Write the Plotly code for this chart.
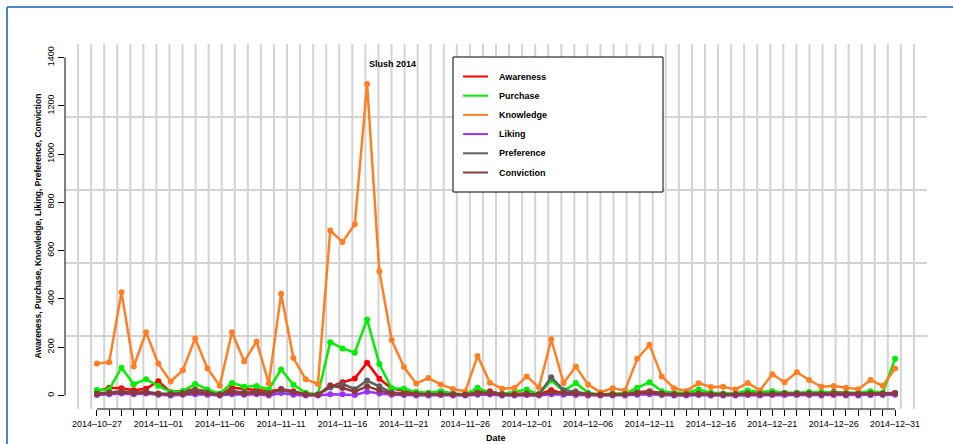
import plotly.graph_objects as go
import pandas as pd

# ---------------- data ----------------
dates = pd.date_range("2014-10-27", "2014-12-31", freq="D")
date_str = [d.strftime("%Y-%m-%d") for d in dates]

awareness = [18, 32, 30, 22, 28, 59, 14, 18, 25, 18, 4, 32, 28, 25, 18, 25, 18, 4, 4, 36,
             55, 70, 136, 69, 30, 20, 11, 8, 8, 6, 5, 14, 18, 5, 6, 8, 5, 22, 8, 10,
             6, 4, 6, 6, 14, 18, 10, 6, 5, 8, 5, 5, 6, 10, 6, 8, 10, 10, 10, 8,
             14, 10, 8, 8, 8, 10]
purchase = [23, 25, 115, 47, 67, 40, 14, 18, 48, 25, 7, 52, 36, 39, 25, 108, 44, 11, 4, 221,
            195, 177, 315, 130, 30, 28, 14, 11, 18, 8, 4, 32, 11, 6, 14, 25, 4, 63, 18, 52,
            11, 4, 8, 8, 32, 55, 18, 11, 11, 25, 11, 8, 8, 21, 15, 18, 11, 11, 14, 14,
            11, 11, 11, 18, 11, 152]
knowledge = [132, 138, 428, 120, 262, 132, 58, 105, 236, 112, 40, 262, 141, 224, 50, 421, 155, 67, 48, 683,
             636, 709, 1290, 515, 230, 118, 50, 72, 46, 27, 17, 164, 53, 28, 31, 79, 33, 233, 52, 120,
             45, 13, 30, 21, 152, 210, 79, 30, 19, 51, 35, 36, 25, 52, 21, 88, 55, 96, 64, 36,
             39, 32, 26, 64, 40, 112]
liking = [2, 5, 8, 5, 8, 3, 0, 3, 5, 3, 0, 5, 3, 5, 0, 10, 3, 0, 0, 5,
          5, 2, 15, 8, 3, 2, 0, 0, 2, 0, 0, 3, 4, 0, 0, 2, 0, 5, 3, 2,
          0, 0, 0, 0, 3, 5, 2, 0, 0, 2, 0, 0, 0, 2, 0, 2, 2, 2, 2, 0,
          2, 0, 0, 2, 2, 3]
preference = [8, 12, 18, 12, 15, 8, 6, 10, 22, 12, 4, 18, 12, 14, 10, 22, 14, 5, 4, 33,
              48, 26, 62, 38, 12, 8, 6, 5, 6, 5, 4, 10, 12, 5, 5, 8, 5, 76, 22, 16,
              6, 4, 5, 5, 10, 15, 8, 5, 5, 8, 5, 5, 5, 8, 6, 8, 8, 8, 8, 6,
              8, 6, 6, 8, 8, 10]
conviction = [6, 10, 14, 10, 12, 6, 5, 6, 12, 8, 3, 12, 8, 10, 6, 27, 14, 4, 3, 42,
              31, 16, 38, 21, 8, 6, 5, 5, 5, 4, 3, 8, 10, 4, 4, 6, 4, 12, 10, 8,
              4, 3, 4, 4, 8, 12, 6, 4, 4, 6, 4, 4, 4, 6, 5, 6, 6, 6, 6, 5,
              6, 5, 5, 6, 6, 8]

series_names = ["Awareness", "Purchase", "Knowledge", "Liking", "Preference", "Conviction"]
series_values = [awareness, purchase, knowledge, liking, preference, conviction]
colors = ["#FF0000", "#00EE00", "#FF7F24", "#9B30FF", "#5E5E5E", "#8B3A3A"]

y_ticks = [0, 200, 400, 600, 800, 1000, 1200, 1400]
y_lim = (0, 1400)
tick_labels = [s.replace("-", "\u2013") if i % 5 == 0 else "" for i, s in enumerate(date_str)]

title_text = "Slush 2014"
y_title = "Awareness, Purchase, Knowledge, Liking, Preference, Conviction"
x_title = "Date"

# ---------------- layout geometry ----------------
W, H = 953, 444
ML, MR, MT, MB = 65, 26, 44, 35
PW, PH = W - ML - MR, H - MT - MB

def px_x(px):
    return (px - ML) / PW

def px_y(py):
    return (H - MB - py) / PH

FONT = "Liberation Sans, Arial, Helvetica, sans-serif"

# R-style 4% range extension
n_days = (dates[-1] - dates[0]).days
ext_x = pd.Timedelta(days=0.04 * n_days)
x_lo, x_hi = dates[0] - ext_x, dates[-1] + ext_x
ext_y = 0.04 * (y_lim[1] - y_lim[0])
y_lo, y_hi = y_lim[0] - ext_y, y_lim[1] + ext_y

fig = go.Figure()
for name, vals, col in zip(series_names, series_values, colors):
    fig.add_trace(go.Scatter(
        x=dates, y=vals, name=name, mode="lines+markers",
        line=dict(color=col, width=2.5),
        marker=dict(color=col, size=6),
        showlegend=False, cliponaxis=False,
    ))

shapes = []
GRID = "#D3D3D3"
# grid (R grid(nx=66, ny=5))
nx, ny = 66, 5
for k in range(1, nx):
    xv = x_lo + (x_hi - x_lo) * k / nx
    shapes.append(dict(type="line", xref="x", yref="paper",
                       x0=xv, x1=xv, y0=0, y1=1, layer="below",
                       line=dict(color=GRID, width=2)))
for k in range(1, ny):
    yv = y_lo + (y_hi - y_lo) * k / ny
    shapes.append(dict(type="line", xref="paper", yref="y",
                       x0=0, x1=1, y0=yv, y1=yv, layer="below",
                       line=dict(color=GRID, width=2)))
# axis lines spanning tick range
shapes.append(dict(type="line", xref="paper", yref="y", x0=0, x1=0,
                   y0=y_ticks[0], y1=y_ticks[-1], line=dict(color="black", width=1)))
shapes.append(dict(type="line", xref="x", yref="paper", x0=dates[0], x1=dates[-1],
                   y0=0, y1=0, line=dict(color="black", width=1)))

# legend box
shapes.append(dict(type="rect", xref="paper", yref="paper",
                   x0=px_x(453), x1=px_x(663), y0=px_y(192), y1=px_y(57),
                   fillcolor="white", line=dict(color="black", width=1), layer="above"))
annotations = []
for i, (name, col) in enumerate(zip(series_names, colors)):
    yy = px_y(76.5 + 19.2 * i)
    shapes.append(dict(type="line", xref="paper", yref="paper",
                       x0=px_x(463), x1=px_x(488), y0=yy, y1=yy,
                       line=dict(color=col, width=2), layer="above"))
    annotations.append(dict(xref="paper", yref="paper", x=px_x(497), y=yy,
                            text=name, showarrow=False, xanchor="left", yanchor="middle",
                            font=dict(family=FONT, size=9, color="black", weight="bold")))

# outer blue frame
FRAME = "#4F81D6"
shapes.append(dict(type="line", xref="paper", yref="paper",
                   x0=px_x(7), x1=px_x(7), y0=px_y(7), y1=px_y(470),
                   line=dict(color=FRAME, width=2)))
shapes.append(dict(type="line", xref="paper", yref="paper",
                   x0=px_x(7), x1=px_x(970), y0=px_y(7), y1=px_y(7),
                   line=dict(color=FRAME, width=2)))

# texts
peak_i = knowledge.index(max(knowledge))
annotations.append(dict(xref="x", yref="y", x=dates[peak_i], y=1372, text=title_text,
                        showarrow=False, xanchor="left", yanchor="middle",
                        font=dict(family=FONT, size=9, color="black", weight="bold")))
annotations.append(dict(xref="paper", yref="paper", x=px_x(37), y=0.5, text=y_title,
                        textangle=-90, showarrow=False, xanchor="center", yanchor="middle",
                        font=dict(family=FONT, size=8.5, color="black", weight="bold")))
annotations.append(dict(xref="paper", yref="paper", x=0.5, y=px_y(438), text=x_title,
                        showarrow=False, xanchor="center", yanchor="middle",
                        font=dict(family=FONT, size=9, color="black", weight="bold")))

fig.update_layout(
    width=W, height=H,
    margin=dict(l=ML, r=MR, t=MT, b=MB, pad=0),
    paper_bgcolor="white", plot_bgcolor="white",
    showlegend=False, hovermode=False,
    shapes=shapes, annotations=annotations,
    font=dict(family=FONT, size=9, color="black"),
    xaxis=dict(type="date", range=[x_lo, x_hi], showgrid=False, zeroline=False,
               showline=False, tickmode="array", tickvals=dates, ticktext=tick_labels,
               ticks="outside", ticklen=6, tickwidth=1, tickcolor="black",
               tickangle=0, tickfont=dict(family=FONT, size=9, color="black")),
    yaxis=dict(range=[y_lo, y_hi], showgrid=False, zeroline=False, showline=False,
               tickmode="array", tickvals=y_ticks, ticktext=[str(v) for v in y_ticks],
               ticks="outside", ticklen=6, tickwidth=1, tickcolor="black",
               tickangle=-90, tickfont=dict(family=FONT, size=9, color="black")),
)

fig.write_html("out.html", config={"displayModeBar": False},
               post_script="document.body.style.margin='0';document.body.style.padding='0';")
